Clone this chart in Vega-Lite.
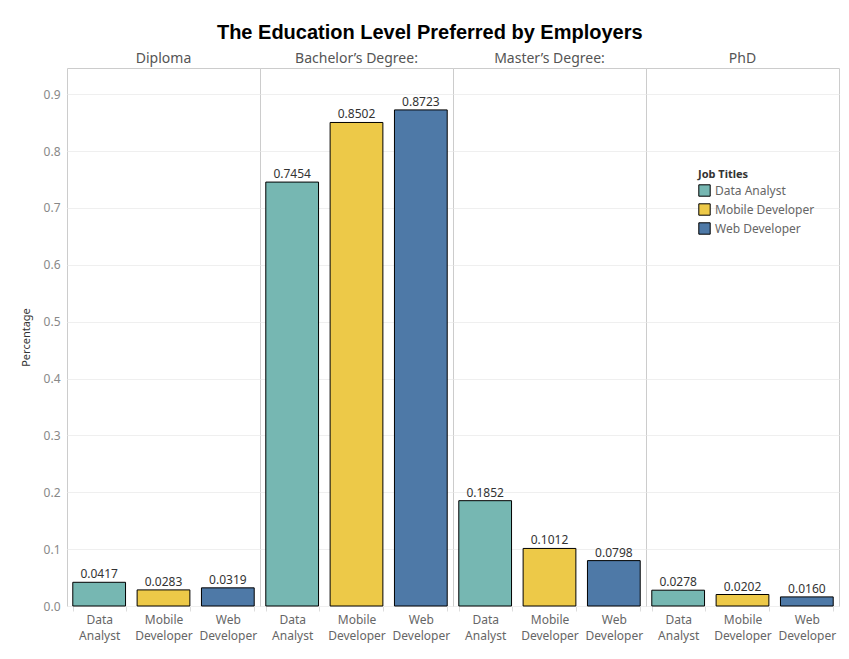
{
  "$schema": "https://vega.github.io/schema/vega-lite/v6.json",
  "background": "white",
  "padding": {"left": 20, "top": 23, "right": 5, "bottom": 5},
  "bounds": "flush",
  "title": {"text": "The Education Level Preferred by Employers", "font": "Liberation Sans", "fontSize": 20, "fontWeight": "bold", "color": "#000000", "anchor": "middle", "offset": 9},
  "data": {"values": [
    {"edu": "Diploma", "job": "Data Analyst", "pct": 0.0417},
    {"edu": "Diploma", "job": "Mobile Developer", "pct": 0.0283},
    {"edu": "Diploma", "job": "Web Developer", "pct": 0.0319},
    {"edu": "Bachelor’s Degree:", "job": "Data Analyst", "pct": 0.7454},
    {"edu": "Bachelor’s Degree:", "job": "Mobile Developer", "pct": 0.8502},
    {"edu": "Bachelor’s Degree:", "job": "Web Developer", "pct": 0.8723},
    {"edu": "Master’s Degree:", "job": "Data Analyst", "pct": 0.1852},
    {"edu": "Master’s Degree:", "job": "Mobile Developer", "pct": 0.1012},
    {"edu": "Master’s Degree:", "job": "Web Developer", "pct": 0.0798},
    {"edu": "PhD", "job": "Data Analyst", "pct": 0.0278},
    {"edu": "PhD", "job": "Mobile Developer", "pct": 0.0202},
    {"edu": "PhD", "job": "Web Developer", "pct": 0.0160}
  ]},
  "facet": {
    "column": {"field": "edu", "type": "nominal", "title": null,
      "sort": ["Diploma", "Bachelor’s Degree:", "Master’s Degree:", "PhD"],
      "header": {"labelOrient": "top", "labelFont": "Noto Sans", "labelFontSize": 14, "labelColor": "#555555", "labelPadding": 2}}
  },
  "spacing": 0,
  "spec": {
    "width": 193,
    "height": 538,
    "layer": [
      {"mark": {"type": "bar", "stroke": "#000000", "strokeWidth": 1},
       "encoding": {
         "color": {"field": "job", "type": "nominal", "title": "Job Titles",
           "scale": {"domain": ["Data Analyst", "Mobile Developer", "Web Developer"], "range": ["#76b7b2", "#edc948", "#4e79a7"]},
           "legend": {"orient": "none", "legendX": 631, "legendY": 101, "titleFont": "Noto Sans", "titleFontSize": 11, "titleFontWeight": "bold", "titleColor": "#333333", "titlePadding": 4, "labelFont": "Noto Sans", "labelFontSize": 12, "labelColor": "#666666", "symbolType": "square", "symbolSize": 130, "symbolStrokeColor": "#000000", "symbolStrokeWidth": 1, "rowPadding": 2}}
       }},
      {"mark": {"type": "text", "dy": -8, "font": "Noto Sans", "fontSize": 12, "color": "#333333"},
       "encoding": {"text": {"field": "pct", "type": "quantitative", "format": ".4f"}}}
    ],
    "encoding": {
      "x": {"field": "job", "type": "nominal", "title": null,
        "scale": {"paddingInner": 0.18, "paddingOuter": 0.09},
        "axis": {"labelAngle": 0, "labelExpr": "split(datum.label, ' ')", "labelFont": "Noto Sans", "labelFontSize": 12, "labelColor": "#666666", "labelLineHeight": 16, "labelPadding": 3, "domain": false, "ticks": true, "tickBand": "extent", "tickColor": "#dddddd", "tickSize": 5}},
      "y": {"field": "pct", "type": "quantitative", "title": "Percentage",
        "scale": {"domain": [0, 0.946], "nice": false},
        "axis": {"values": [0, 0.1, 0.2, 0.3, 0.4, 0.5, 0.6, 0.7, 0.8, 0.9], "format": ".1f", "labelFont": "Noto Sans", "labelFontSize": 12, "labelColor": "#888888", "titleFont": "Noto Sans", "titleFontSize": 11, "titleFontWeight": "normal", "titleColor": "#333333", "domain": false, "ticks": false, "gridColor": "#efefef", "labelPadding": 7, "titlePadding": 12}}
    }
  },
  "config": {
    "view": {"stroke": "#cccccc"}
  }
}
